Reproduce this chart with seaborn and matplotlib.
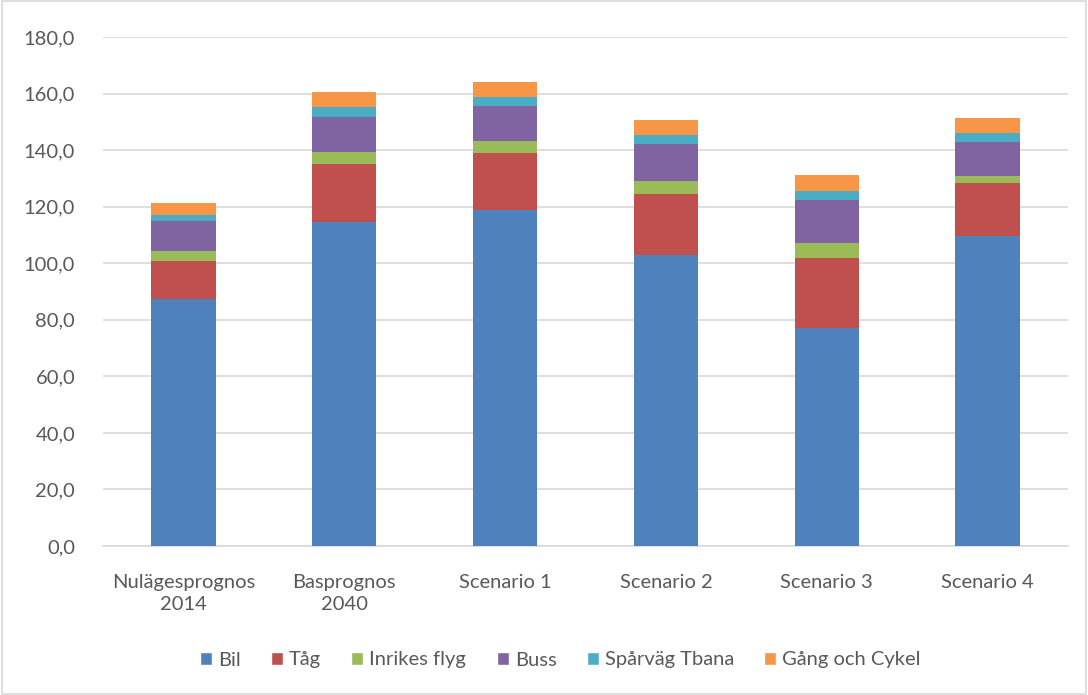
import numpy as np
import pandas as pd
import seaborn as sns
from matplotlib import pyplot as plt
from matplotlib.patches import Patch
from matplotlib.ticker import FuncFormatter

categories = ["Nulägesprognos\n2014", "Basprognos\n2040", "Scenario 1",
              "Scenario 2", "Scenario 3", "Scenario 4"]
series = ["Bil", "Tåg", "Inrikes flyg", "Buss", "Spårväg Tbana", "Gång och Cykel"]

bil = [87.2, 114.6, 118.9, 102.8, 77.1, 109.6]
tag = [13.6, 20.6, 20.2, 21.7, 24.6, 18.6]
inrikes_flyg = [3.6, 4.0, 4.1, 4.5, 5.4, 2.8]
buss = [10.6, 12.6, 12.3, 13.3, 15.4, 12.0]
sparvag_tbana = [2.2, 3.4, 3.4, 3.1, 3.2, 3.2]
gang_cykel = [4.1, 5.2, 5.1, 5.2, 5.4, 5.0]

colors = ["#4f81bd", "#c0504d", "#9bbb59", "#8064a2", "#4bacc6", "#f79646"]

sns.set_style("white")
plt.rcParams['font.family'] = ['Lato', 'DejaVu Sans']

df = pd.DataFrame(dict(zip(series, [bil, tag, inrikes_flyg, buss, sparvag_tbana, gang_cykel])),
                  index=categories)
cum = df.cumsum(axis=1)

fig = plt.figure(figsize=(10.88, 6.95), dpi=100)
ax = fig.add_axes([103 / 1088, 1 - 546 / 695, 965 / 1088, 509 / 695])

# stacked look: draw cumulative totals from top layer down
for name, color in reversed(list(zip(series, colors))):
    sns.barplot(x=cum.index, y=cum[name].values, color=color, width=0.40,
                saturation=1, linewidth=0, ax=ax, zorder=3)

ax.set_ylim(0, 180)
ax.set_yticks(np.arange(0, 181, 20))
ax.yaxis.set_major_formatter(FuncFormatter(lambda v, p: f"{v:.1f}".replace(".", ",")))
ax.grid(axis="y", color="#d9d9d9", linewidth=1.2, zorder=0)
ax.set_axisbelow(True)
for s in ["top", "right", "left"]:
    ax.spines[s].set_visible(False)
ax.spines["bottom"].set_color("#d9d9d9")
ax.spines["bottom"].set_linewidth(1.2)
ax.tick_params(axis="both", length=0, labelsize=14.5, labelcolor="#595959")
ax.tick_params(axis="x", pad=20)
ax.tick_params(axis="y", pad=20)
for lbl in ax.get_xticklabels():
    lbl.set_linespacing(1.35)
ax.set_xlabel("")
ax.set_ylabel("")

handles = [Patch(facecolor=c, label=s) for s, c in zip(series, colors)]
fig.legend(handles=handles, loc="center", bbox_to_anchor=(0.515, 1 - 660 / 695), ncol=6,
           frameon=False, fontsize=14.5, labelcolor="#595959", handlelength=0.6,
           handleheight=0.6, handletextpad=0.3, columnspacing=1.5)

fig.patches.append(plt.Rectangle((0.002, 0.002), 0.996, 0.996, transform=fig.transFigure,
                                 fill=False, edgecolor="#d9d9d9", linewidth=1.2))

fig.savefig("out.png", dpi=100)
